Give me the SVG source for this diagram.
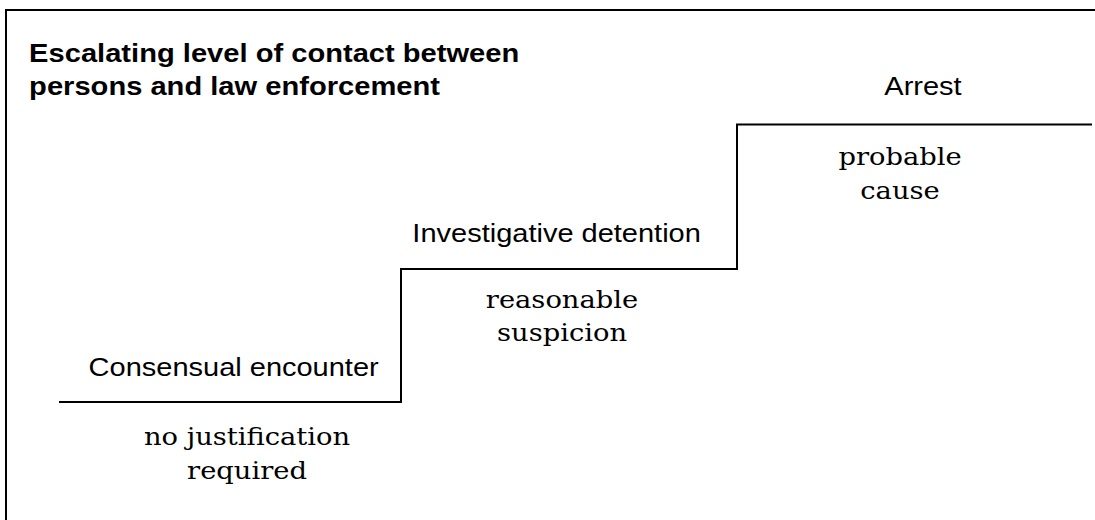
<svg xmlns="http://www.w3.org/2000/svg" width="1095" height="520" viewBox="0 0 1095 520">
<style>
.ln{fill:none;stroke:#000;stroke-width:2}
.sans{font-family:"Liberation Sans",Arial,sans-serif;font-size:25px;fill:#000}
.b{font-weight:bold;font-size:26px}
.serif{font-family:"DejaVu Serif",serif;font-size:24px;fill:#000;text-anchor:middle}
</style>
<rect width="1095" height="520" fill="#fff"/>
<g id="frame"><path class="ln" d="M6,520 V10 H1095"/></g>
<g id="title" transform="scale(1.12 1)">
<text class="sans b" x="26" y="62">Escalating level of contact between</text>
<text class="sans b" x="26" y="95">persons and law enforcement</text>
</g>
<g id="connectors"><path class="ln" d="M59,402 H401 V269 H737 V124.5 H1092"/></g>
<g id="consensual">
<text class="sans" transform="scale(1.16 1)" x="76.4" y="376.5">Consensual encounter</text>
<text class="serif" transform="scale(1.14 1)" x="216.7" y="445">no justification</text>
<text class="serif" transform="scale(1.14 1)" x="216.7" y="479">required</text>
</g>
<g id="detention">
<text class="sans" transform="scale(1.16 1)" x="355.5" y="242.5">Investigative detention</text>
<text class="serif" transform="scale(1.14 1)" x="493" y="308">reasonable</text>
<text class="serif" transform="scale(1.14 1)" x="493" y="341">suspicion</text>
</g>
<g id="arrest">
<text class="sans" transform="scale(1.16 1)" x="795.7" y="95.5" text-anchor="middle">Arrest</text>
<text class="serif" transform="scale(1.14 1)" x="789.5" y="165">probable</text>
<text class="serif" transform="scale(1.14 1)" x="789.5" y="199.5">cause</text>
</g>
</svg>
